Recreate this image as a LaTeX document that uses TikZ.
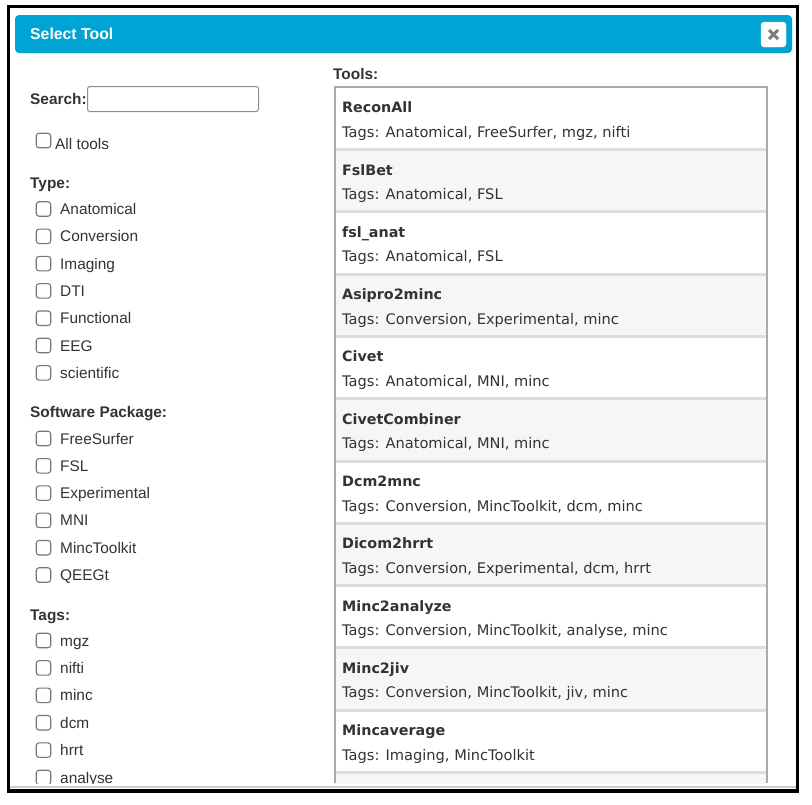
\documentclass[tikz,border=0pt]{standalone}
\usepackage{fontspec}
\setmainfont{Liberation Sans}
\newfontfamily\verd{DejaVu Sans}
\definecolor{hdr}{RGB}{0,164,212}
\definecolor{txt}{RGB}{51,51,51}
\definecolor{cbx}{RGB}{118,118,118}
\definecolor{lst}{RGB}{170,170,170}
\definecolor{sepc}{RGB}{221,221,221}
\definecolor{rowg}{RGB}{246,246,246}
\definecolor{closex}{RGB}{125,125,125}
\definecolor{inpt}{RGB}{140,140,140}
\begin{document}
\begin{tikzpicture}[x=1pt,y=-1pt,
  lbl/.style={anchor=base west, inner sep=0pt, text=txt, font=\fontsize{15.4}{18}\selectfont},
  hdrlbl/.style={anchor=base west, inner sep=0pt, text=txt, font=\fontsize{15.4}{18}\selectfont\bfseries},
  chk/.style={draw=cbx, line width=1.1pt, rounded corners=2.8pt, minimum size=14.5pt, inner sep=0pt, fill=white},
  tname/.style={anchor=base west, inner sep=0pt, text=txt, font=\verd\fontsize{14.3}{17}\selectfont\bfseries},
  ttags/.style={anchor=base west, inner sep=0pt, text=txt, font=\verd\fontsize{14.6}{17}\selectfont},
  sepline/.style={sepc, line width=3pt},
]
\useasboundingbox (0,0) rectangle (812,804);
\fill[white] (0,0) rectangle (812,804);

% header
\fill[hdr, rounded corners=4pt] (15,15) rectangle (792,53);
\node[anchor=base west, inner sep=0pt, text=white, font=\fontsize{15.8}{18}\selectfont\bfseries] (title) at (30,39.8) {Select Tool};
\node[fill=white, draw=black!12, rounded corners=3pt, minimum size=25pt, inner sep=0pt] (close) at (773.5,34.5) {};
\draw[closex, line width=3pt] ([shift={(-4.5,-4.5)}]close.center) -- ([shift={(4.5,4.5)}]close.center);
\draw[closex, line width=3pt] ([shift={(-4.5,4.5)}]close.center) -- ([shift={(4.5,-4.5)}]close.center);

% left panel
\begin{scope}
\clip (10,54) rectangle (330,783.5);
\node[hdrlbl] (searchlbl) at (30,104.5) {Search:};
\node[draw=inpt, line width=1pt, rounded corners=2.5pt, minimum width=171pt, minimum height=25pt, inner sep=0pt] (search) at (173,99) {};
\node[chk] (cball) at (43.5,140.5) {};
\node[lbl] (lball) at (55,149.5) {All tools};

\node[hdrlbl] (typelbl) at (30,188) {Type:};
\foreach \n [count=\k from 0] in {Anatomical,Conversion,Imaging,DTI,Functional,EEG,scientific} {
  \node[chk] (cbt\k) at (43.5,209+27.3*\k) {};
  \node[lbl] (lbt\k) at (60,214.5+27.3*\k) {\n};
}
\node[hdrlbl] (softlbl) at (30,417.5) {Software Package:};
\foreach \n [count=\k from 0] in {FreeSurfer,FSL,Experimental,MNI,MincToolkit,QEEGt} {
  \node[chk] (cbs\k) at (43.5,438.5+27.3*\k) {};
  \node[lbl] (lbs\k) at (60,444+27.3*\k) {\n};
}
\node[hdrlbl] (tagslbl) at (30,620.5) {Tags:};
\foreach \n [count=\k from 0] in {mgz,nifti,minc,dcm,hrrt,analyse} {
  \node[chk] (cbg\k) at (43.5,640.5+27.4*\k) {};
  \node[lbl] (lbg\k) at (60,646+27.4*\k) {\n};
}
\end{scope}

% tools list
\node[hdrlbl] (toolslbl) at (333,79.5) {Tools:};
\begin{scope}
\clip (335,87) rectangle (766,783);
\foreach \i in {1,3,5,7,9,11} \fill[rowg] (335,149.5+62.3*\i-62.3) rectangle (766,149.5+62.3*\i);
\foreach \i in {0,...,10} \draw[sepline] (335,149.5+62.3*\i) -- (766,149.5+62.3*\i);
\foreach \t/\g [count=\i from 0] in {ReconAll/{Anatomical, FreeSurfer, mgz, nifti},%
FslBet/{Anatomical, FSL},%
fsl\_anat/{Anatomical, FSL},%
Asipro2minc/{Conversion, Experimental, minc},%
Civet/{Anatomical, MNI, minc},%
CivetCombiner/{Anatomical, MNI, minc},%
Dcm2mnc/{Conversion, MincToolkit, dcm, minc},%
Dicom2hrrt/{Conversion, Experimental, dcm, hrrt},%
Minc2analyze/{Conversion, MincToolkit, analyse, minc},%
Minc2jiv/{Conversion, MincToolkit, jiv, minc},%
Mincaverage/{Imaging, MincToolkit}} {
  \node[tname] (tn\i) at (342,112.7+62.3*\i) {\t};
  \node[ttags] (tg\i) at (342,137.2+62.3*\i) {Tags: \g};
}
\end{scope}
\draw[lst, line width=2pt] (334.5,783) |- (766.5,86.5) -- (766.5,783);

% bottom edge and frame
\draw[black!20, line width=2pt] (10,787) -- (796,787);
\draw[black, line width=3.5pt] (8.5,6.5) rectangle (797.5,791);
\end{tikzpicture}
\end{document}
